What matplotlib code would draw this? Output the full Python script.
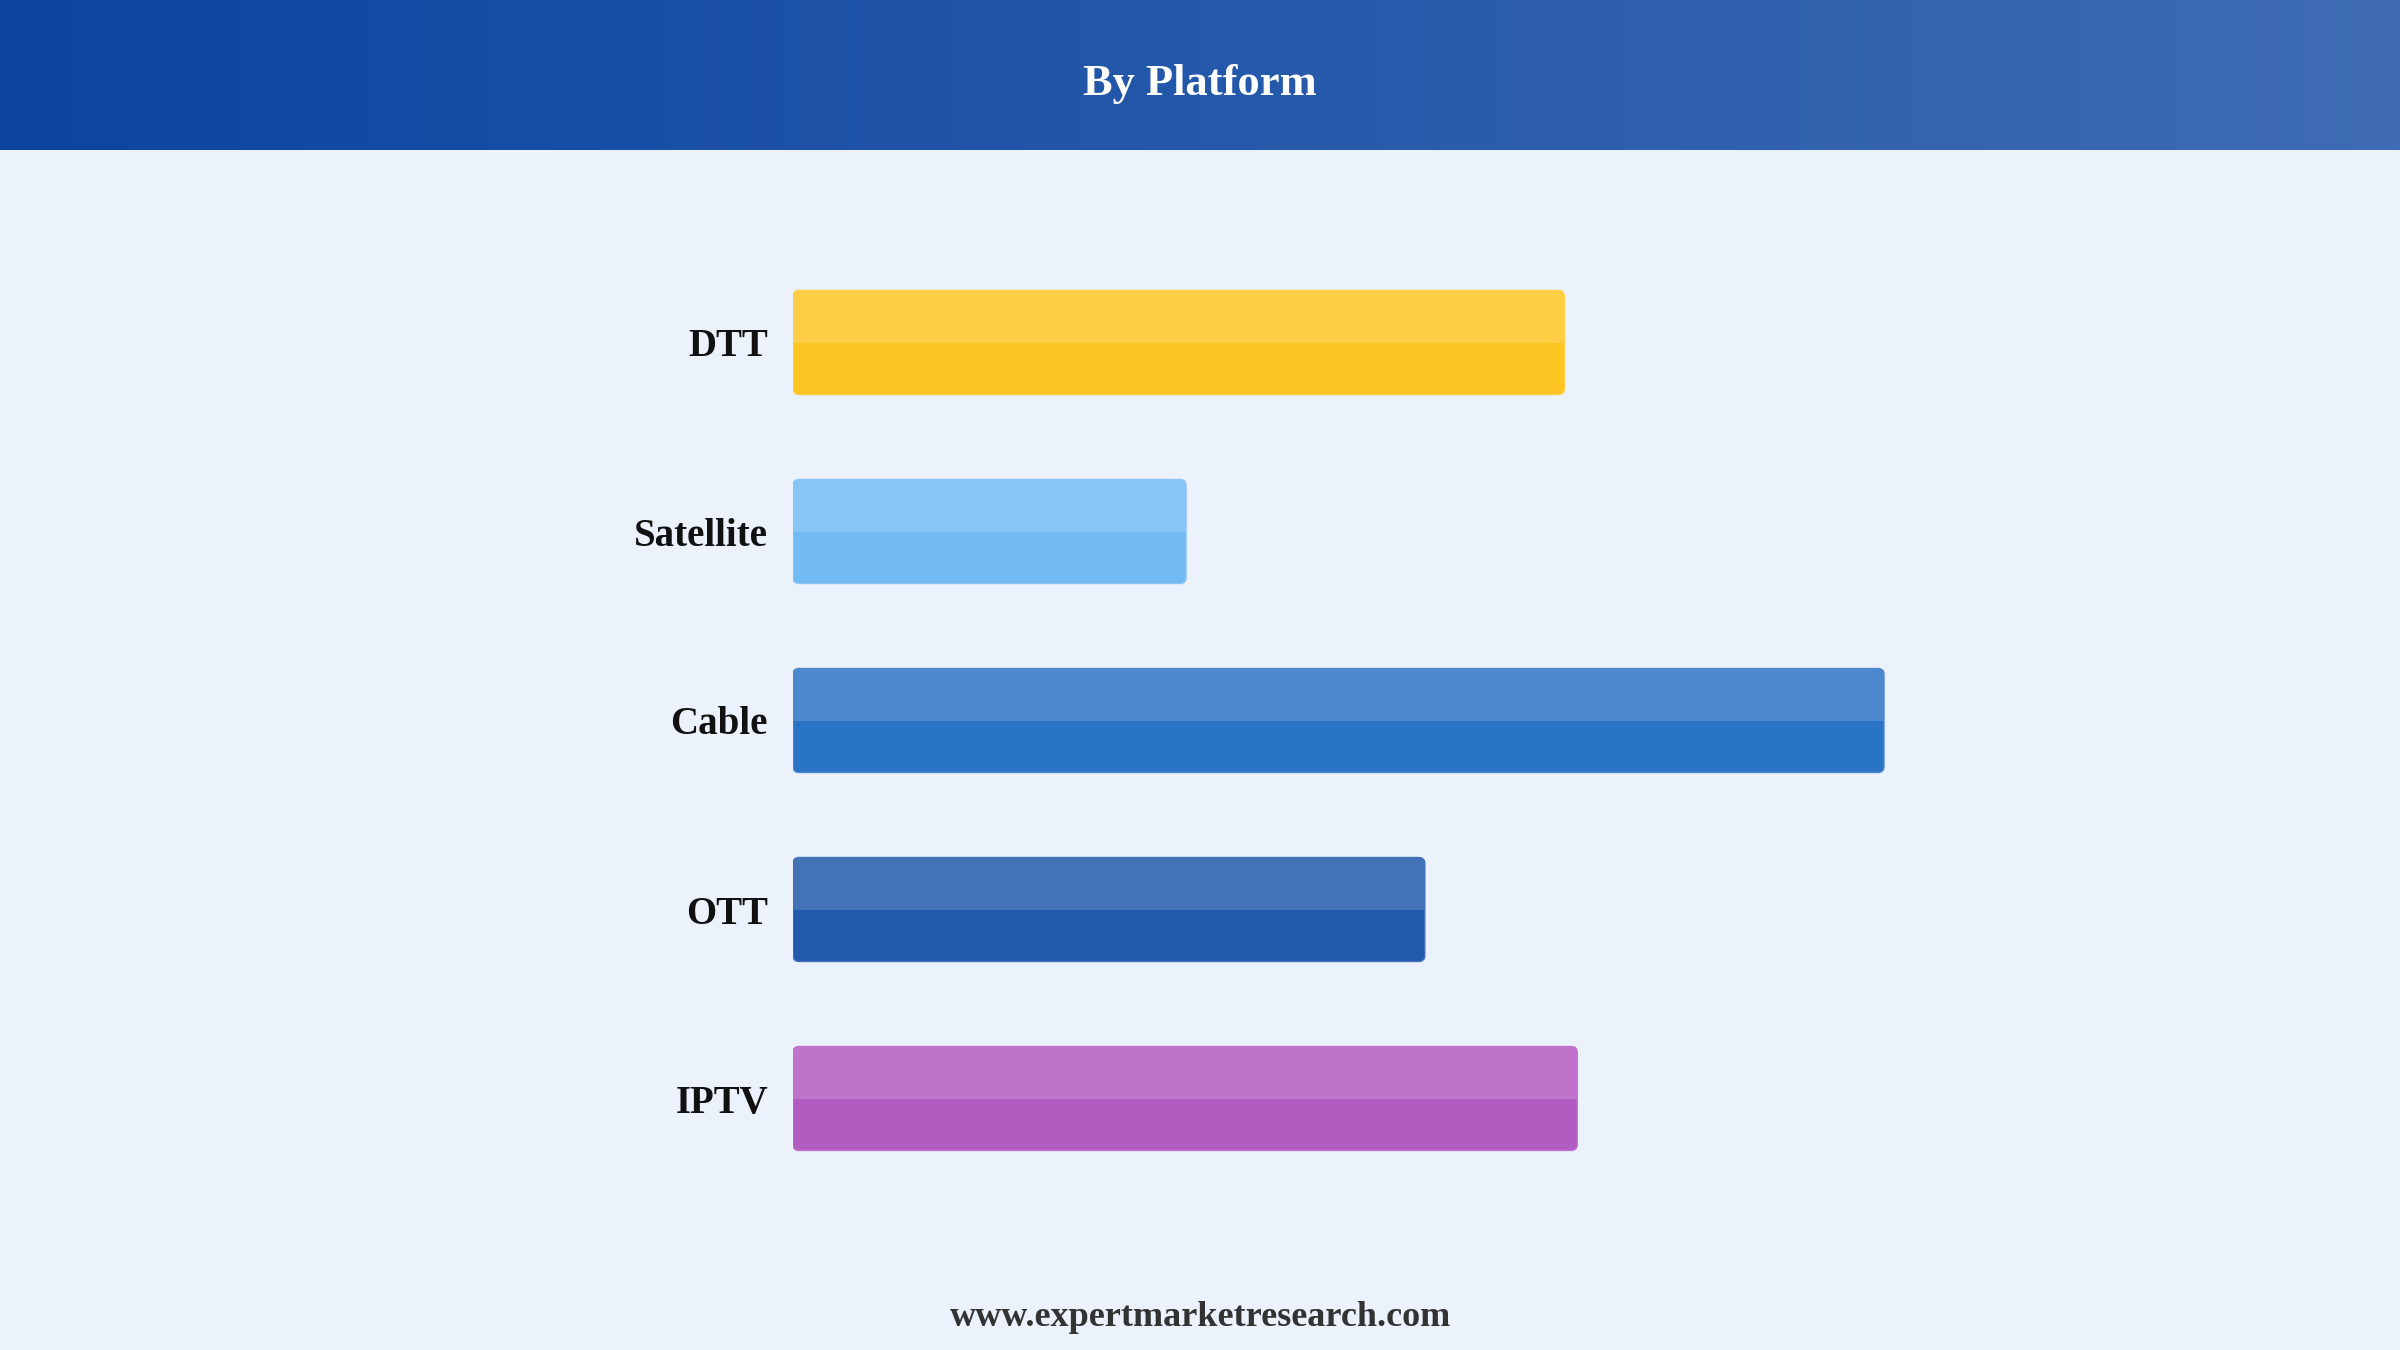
import numpy as np
import matplotlib
matplotlib.use("Agg")
import matplotlib.pyplot as plt
from matplotlib.patches import FancyBboxPatch, Rectangle
from matplotlib.colors import LinearSegmentedColormap

# --- data (share, %) ---
platforms = ["DTT", "Satellite", "Cable", "OTT", "IPTV"]
shares = [21.0, 10.7, 29.7, 17.2, 21.35]
colors_top = ["#FFCE45", "#89C4F6", "#4C88CE", "#4472B7", "#BF73CA"]
colors_bottom = ["#FDC521", "#72BAF4", "#2A74C5", "#2359AA", "#B05CC1"]

title = "By Platform"
footer = "www.expertmarketresearch.com"

W, H = 2400, 1350
BG = "#EBF2FC"

plt.rcParams["font.family"] = ["Liberation Serif", "DejaVu Serif"]

fig = plt.figure(figsize=(W / 100, H / 100), dpi=100, facecolor=BG)

# header band with horizontal gradient
hdr_h = 150
hax = fig.add_axes([0, 1 - hdr_h / H, 1, hdr_h / H])
cmap = LinearSegmentedColormap.from_list("hdr", ["#0C44A0", "#2458AA", "#3F6CB3"])
hax.imshow(np.linspace(0, 1, 256)[None, :], aspect="auto", cmap=cmap,
           extent=[0, 1, 0, 1])
hax.set_axis_off()
fig.text(0.5, 1 - 84 / H, title, ha="center", va="center", color="white",
         fontsize=32, fontweight="bold")

# bar axes
x0, xmax = 793, 35.0
px_per_unit = (1884 - 793) / 29.7
ax_w = xmax * px_per_unit
y_top, y_bot = 248, 1193
ax = fig.add_axes([x0 / W, 1 - y_bot / H, ax_w / W, (y_bot - y_top) / H])
ax.set_facecolor(BG)
ax.set_xlim(0, xmax)
ax.set_ylim(len(platforms) - 0.5, -0.5)

bar_h = 0.55
r_x = 6 / px_per_unit
r_y = 6 / 189
for i, (v, ct, cb) in enumerate(zip(shares, colors_top, colors_bottom)):
    patch = FancyBboxPatch((0, i - bar_h / 2), v, bar_h,
                           boxstyle=f"round,pad=0,rounding_size={r_x}",
                           mutation_aspect=r_y / r_x,
                           facecolor=cb, edgecolor=ct, linewidth=1.0, zorder=2)
    ax.add_patch(patch)
    top = Rectangle((0, i - bar_h / 2), v, bar_h / 2, facecolor=ct,
                    edgecolor="none", zorder=3)
    ax.add_patch(top)
    top.set_clip_path(patch)

ax.set_yticks(range(len(platforms)))
ax.set_yticklabels(platforms, fontsize=28, fontweight="bold", color="#111111")
ax.tick_params(axis="y", length=0, pad=18)
ax.set_xticks([])
for s in ax.spines.values():
    s.set_visible(False)

fig.text(0.5, 1 - 1318 / H, footer, ha="center", va="center", color="#333333",
         fontsize=26, fontweight="bold")

fig.savefig("out.png", dpi=100, facecolor=BG)
